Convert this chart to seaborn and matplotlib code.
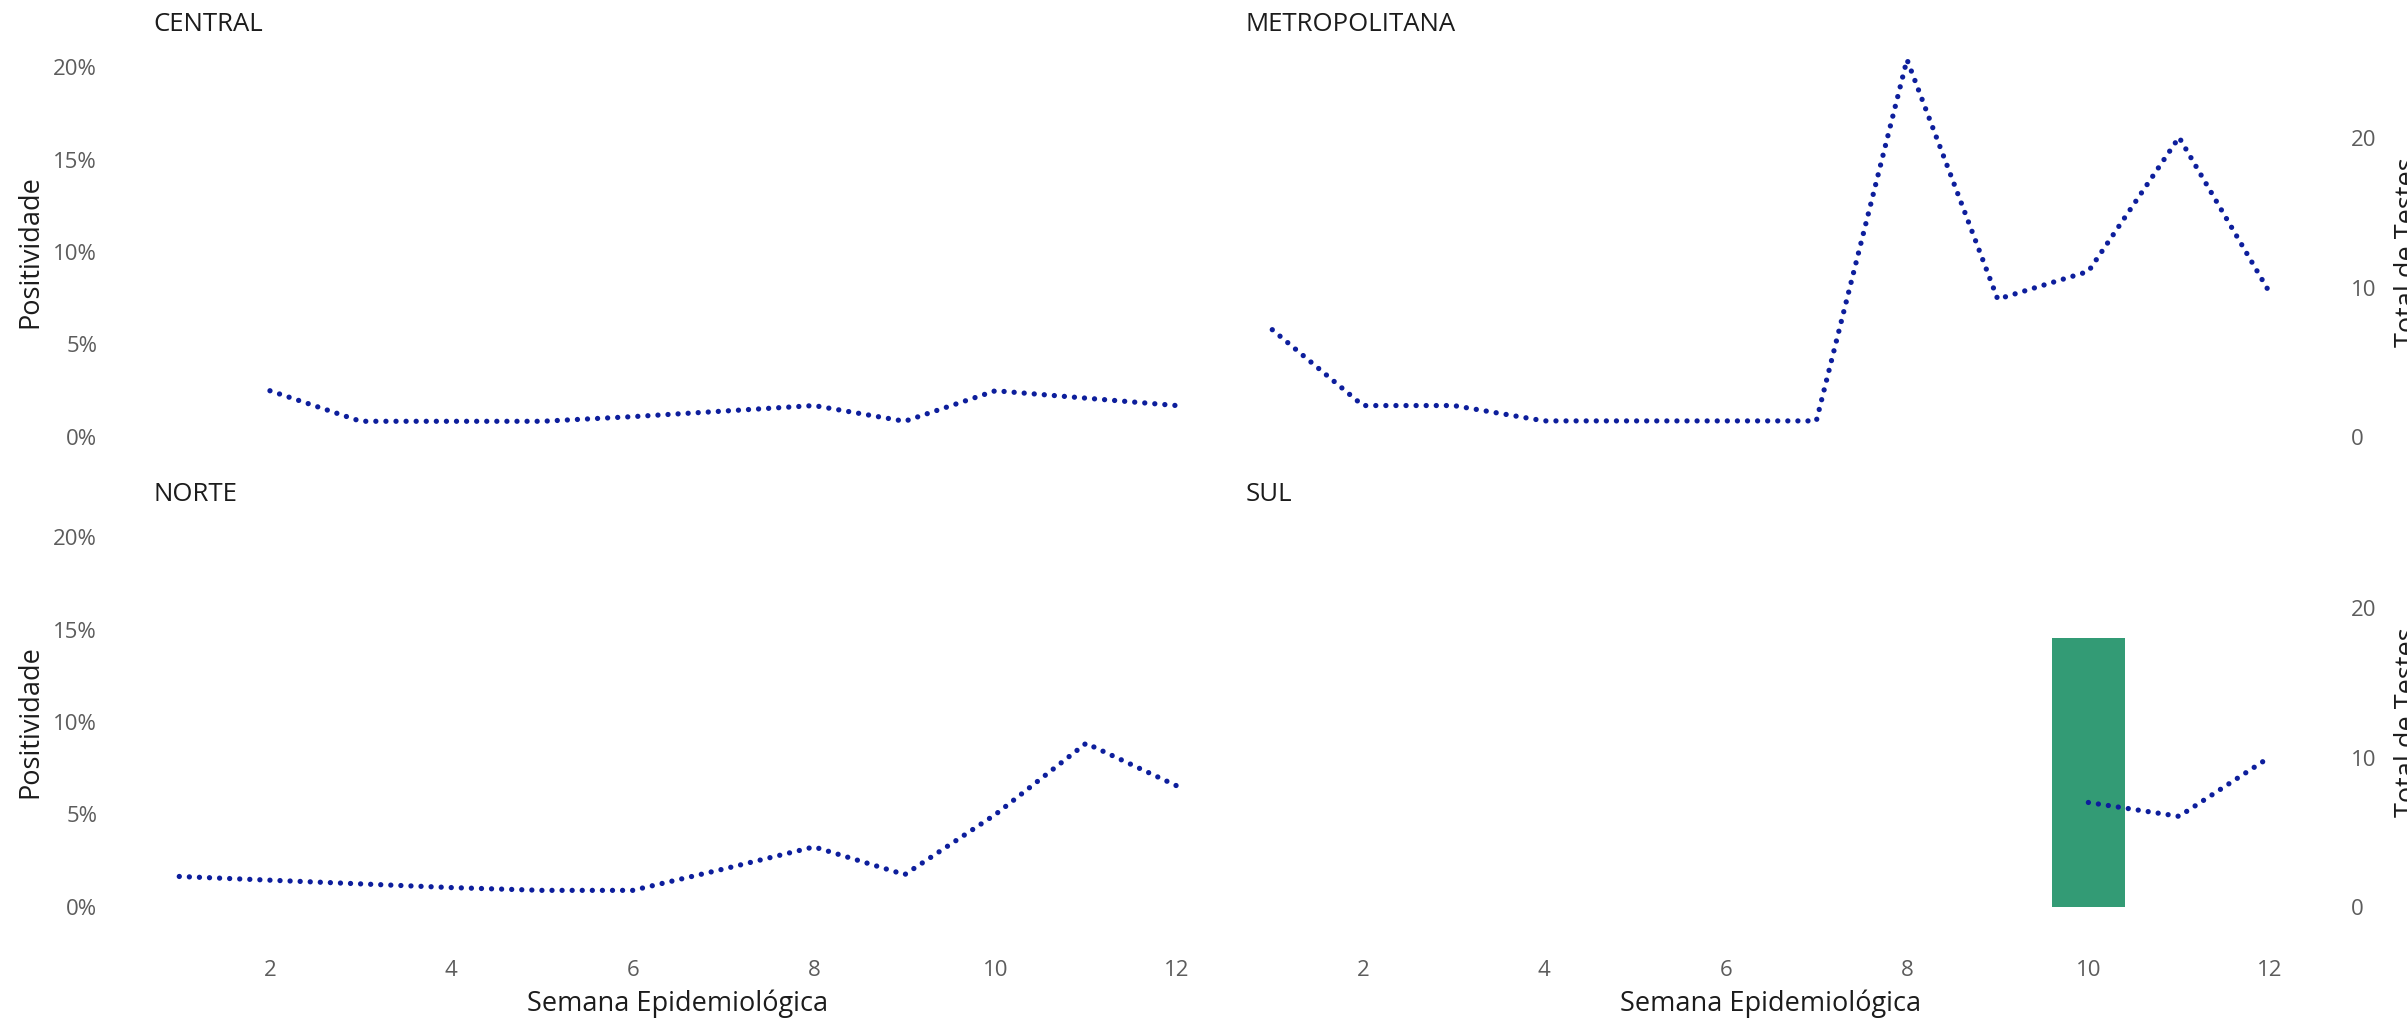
import matplotlib

matplotlib.use("Agg")
import matplotlib.pyplot as plt
import seaborn as sns
from matplotlib.ticker import PercentFormatter


# Positividade (%) por semana epidemiológica
CENTRAL_WEEKS = [2, 3, 4, 5, 6, 7, 8, 9, 10, 11, 12]
CENTRAL_POS = [2.5, 0.85, 0.85, 0.85, 1.1, 1.4, 1.7, 0.85, 2.5, 2.1, 1.7]

METRO_WEEKS = [1, 2, 3, 4, 5, 6, 7, 8, 9, 10, 11, 12]
METRO_POS = [5.8, 1.7, 1.7, 0.87, 0.87, 0.87, 0.87, 20.4, 7.45, 8.95, 16.2, 7.8]

NORTE_WEEKS = [1, 2, 3, 4, 5, 6, 7, 8, 9, 10, 11, 12]
NORTE_POS = [1.65, 1.45, 1.25, 1.05, 0.9, 0.9, 2.05, 3.25, 1.75, 5.0, 8.85, 6.55]

SUL_WEEKS = [10, 11, 12]
SUL_POS = [5.65, 4.9, 8.1]

# Total de testes (barras)
SUL_TEST_WEEKS = [10]
SUL_TESTS = [18]

REGIONS = ["CENTRAL", "METROPOLITANA", "NORTE", "SUL"]
X_TICKS = [2, 4, 6, 8, 10, 12]
POS_TICKS = [0, 5, 10, 15, 20]
TEST_TICKS = [0, 10, 20]

LINE_COLOR = "#0d1e9c"
BAR_COLOR = "#339b75"
TICK_COLOR = "#5c5c5c"
TEXT_COLOR = "#1c1c1c"
TEST_RATIO = 1.2375  # testes por ponto percentual no eixo secundário

W, H = 2407, 1024
AX_W, AX_H = 1070, 407
COL_X = [143, 1236]
ROW_TOP = [48.5, 518.5]


def add_panel(fig, col, row):
    x0 = COL_X[col] / W
    y0 = 1 - (ROW_TOP[row] + AX_H) / H
    return fig.add_axes([x0, y0, AX_W / W, AX_H / H])


def main():
    sns.set_theme(style="white")
    plt.rcParams["font.family"] = ["Open Sans", "DejaVu Sans"]

    fig = plt.figure(figsize=(W / 100, H / 100), dpi=100)

    series = {
        "CENTRAL": (CENTRAL_WEEKS, CENTRAL_POS, [], []),
        "METROPOLITANA": (METRO_WEEKS, METRO_POS, [], []),
        "NORTE": (NORTE_WEEKS, NORTE_POS, [], []),
        "SUL": (SUL_WEEKS, SUL_POS, SUL_TEST_WEEKS, SUL_TESTS),
    }

    for i, region in enumerate(REGIONS):
        row, col = divmod(i, 2)
        ax = add_panel(fig, col, row)
        twin = ax.twinx()
        weeks, pos, test_weeks, tests = series[region]

        if tests:
            twin.bar(test_weeks, tests, width=0.8, color=BAR_COLOR, linewidth=0)

        sns.lineplot(
            x=weeks,
            y=pos,
            ax=ax,
            color=LINE_COLOR,
            linewidth=3.8,
            linestyle=(0, (0.01, 1.9)),
            dash_capstyle="round",
        )
        ax.set_zorder(twin.get_zorder() + 1)
        ax.patch.set_visible(False)

        ax.set_xlim(0.6, 12.4)
        ax.set_ylim(-1, 21)
        twin.set_ylim(-1 * TEST_RATIO, 21 * TEST_RATIO)

        for a in (ax, twin):
            for spine in a.spines.values():
                spine.set_visible(False)
            a.tick_params(length=0, labelsize=16, labelcolor=TICK_COLOR)
            a.grid(False)

        ax.set_xticks(X_TICKS)
        ax.set_yticks(POS_TICKS)
        ax.yaxis.set_major_formatter(PercentFormatter(xmax=100, decimals=0))
        twin.set_yticks(TEST_TICKS)
        ax.tick_params(axis="y", pad=33)
        twin.tick_params(axis="y", pad=32)
        ax.tick_params(axis="x", pad=25)

        if col == 0:
            ax.set_ylabel("Positividade", fontsize=19.5, color=TEXT_COLOR)
            ax.yaxis.set_label_coords(-0.092, 0.5)
            twin.tick_params(labelright=False)
            twin.set_ylabel("")
        else:
            ax.tick_params(labelleft=False)
            ax.set_ylabel("")
            twin.set_ylabel("Total de Testes", fontsize=19.5, color=TEXT_COLOR)
            twin.yaxis.set_label_coords(1.082, 0.5)

        if row == 0:
            ax.tick_params(labelbottom=False)
            ax.set_xlabel("")
        else:
            ax.set_xlabel("Semana Epidemiológica", fontsize=19.5, color=TEXT_COLOR)
            ax.xaxis.set_label_coords(0.5, -0.158)

        ax.annotate(
            region,
            xy=(0, 1),
            xycoords="axes fraction",
            xytext=(7.2, 17),
            textcoords="offset points",
            ha="left",
            va="center",
            fontsize=18.5,
            color=TEXT_COLOR,
        )

    fig.savefig("out.png", dpi=100, facecolor="white")
    plt.close(fig)


if __name__ == "__main__":
    main()
